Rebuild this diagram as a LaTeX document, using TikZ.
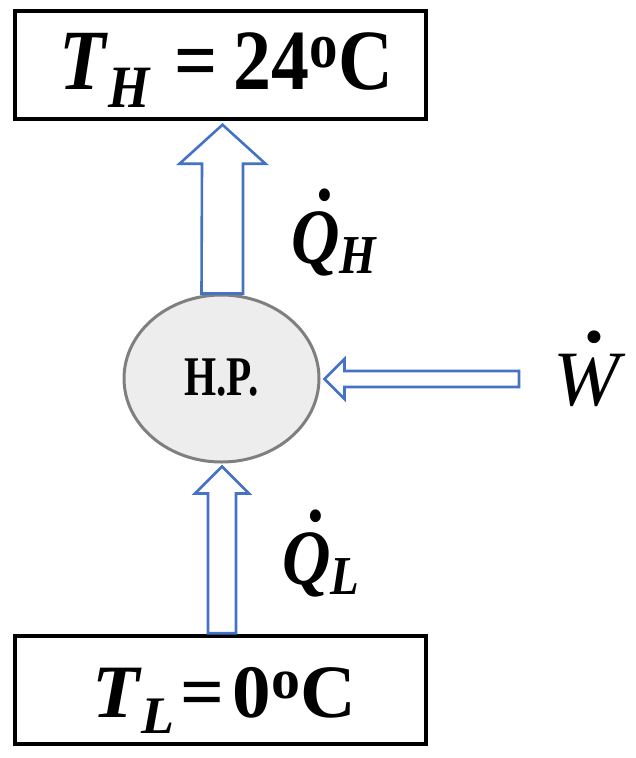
\documentclass[tikz,border=0pt]{standalone}
\usepackage{fontspec}
\setmainfont{Liberation Serif}
\usetikzlibrary{shapes.geometric,calc}
\definecolor{arrowblue}{HTML}{4472C4}
\definecolor{hpfill}{HTML}{EDEDED}
\definecolor{hpdraw}{HTML}{7F7F7F}
\tikzset{
  reservoir/.style={draw=black,line width=3.5pt,minimum width=411pt,minimum height=108pt,inner sep=0pt},
  engine/.style={ellipse,draw=hpdraw,fill=hpfill,line width=3pt,minimum width=195pt,minimum height=167pt,inner sep=0pt},
  barrow/.style={draw=arrowblue,fill=white,line width=2.6pt,line join=miter},
  lbl/.style={inner sep=0pt,anchor=base,font=\Huge},
}
\newcommand{\degsup}{\raisebox{0.25em}{\scalebox{0.75}{o}}}
\newcommand{\bi}[1]{\textbf{\textit{#1}}}
\newcommand{\lowsub}[2]{\raisebox{#1}{\scalebox{0.7}{#2}}}
\newcommand{\dotover}[1]{\makebox[0pt][l]{\hspace{0.38em}\raisebox{0.8em}{\textbf{.}}}#1}
\begin{document}
\begin{tikzpicture}[x=1pt,y=-1pt]
\useasboundingbox (0,0) rectangle (636,758);
% reservoirs
\node[reservoir] (top) at (220.5,65) {};
\node[reservoir] (bot) at (220.5,690) {};
\node[engine] (hp) at (221.5,378.5) {};
\node[lbl,xscale=1.66,yscale=2.25] (hptext) at (221.5,395) {\bfseries H.P.};
% texts
\node[lbl,xscale=3.05,yscale=3.45] (thtext) at (226.5,89) {\bi{T}\lowsub{-0.22em}{\bi{H}}\hspace{0.3em}\textbf{=}\hspace{0.22em}\textbf{24\degsup C}};
\node[lbl,xscale=3.1,yscale=3.03] (tltext) at (224,717) {\bi{T}\lowsub{-0.22em}{\bi{L}}\hspace{0.08em}\textbf{=}\hspace{0.1em}\textbf{0\degsup C}};
% arrows
\coordinate (qhtip) at ($(top.south)+(2,4)$);
\draw[barrow] (qhtip) -- ++(43,39) -- ++(-22.5,0) -- ($(hp.north)+(21.5,0)$) -- ($(hp.north)+(-20,0)$) -- ($(qhtip)+(-20.5,39)$) -- ++(-22.5,0) -- cycle;
\coordinate (qltip) at ($(hp.south)+(0.5,3)$);
\draw[barrow] (qltip) -- ++(27,27) -- ++(-13,0) -- ($(bot.north)+(15.5,-1)$) -- ($(bot.north)+(-12.5,-1)$) -- ($(qltip)+(-14,27)$) -- ++(-13,0) -- cycle;
\coordinate (wtip) at ($(hp.east)+(4,0.5)$);
\coordinate (wend) at (519,379);
\draw[barrow] (wtip) -- ++(20,-20) -- ++(0,12) -- ($(wend)+(0,-8)$) -- ($(wend)+(0,8)$) -- ($(wtip)+(20,8)$) -- ++(0,12) -- cycle;
% labels
\node[lbl,xscale=2.7,yscale=3.15] (qh) at (334.5,263) {\dotover{\bi{Q}}\lowsub{-0.14em}{\bi{H}}};
\node[lbl,xscale=2.7,yscale=3.15] (ql) at (321,584) {\dotover{\bi{Q}}\lowsub{-0.14em}{\bi{L}}};
\node[lbl,xscale=3.2,yscale=3.15] (w) at (590,405) {\dotover{\textit{W}}};
\end{tikzpicture}
\end{document}
